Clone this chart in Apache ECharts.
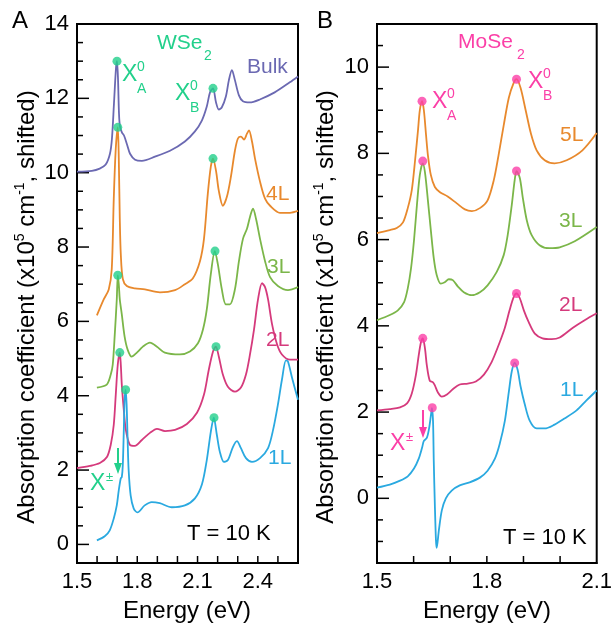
<!DOCTYPE html>
<html>
<head>
<meta charset="utf-8">
<script src="https://cdn.jsdelivr.net/npm/echarts@6/dist/echarts.min.js"></script>
<style>
  html, body { margin: 0; padding: 0; background: #fff; }
  #chart { width: 615px; height: 631px; }
</style>
</head>
<body>
<div id="chart"></div>
<script>
// ---- WSe2 (panel A), [energy eV, absorption x1e5 cm^-1 shifted]
const wse2Bulk = [[1.500,10.03],[1.574,10.05],[1.613,10.11],[1.643,10.22],[1.664,10.51],[1.674,10.92],[1.684,11.86],[1.694,12.81],[1.699,13.00],[1.704,12.54],[1.709,11.59],[1.714,11.24],[1.724,11.08],[1.734,11.00],[1.749,10.76],[1.764,10.51],[1.789,10.35],[1.823,10.32],[1.888,10.43],[1.963,10.59],[2.037,10.84],[2.087,11.11],[2.122,11.41],[2.146,11.78],[2.162,12.16],[2.177,12.27],[2.192,11.89],[2.206,11.70],[2.221,11.76],[2.241,12.05],[2.256,12.49],[2.271,12.76],[2.286,12.49],[2.306,12.08],[2.326,11.92],[2.360,11.89],[2.410,11.97],[2.484,12.16],[2.559,12.43],[2.600,12.59]];
const wse2L4 = [[1.599,6.16],[1.633,6.59],[1.658,6.86],[1.673,7.41],[1.683,9.30],[1.693,10.65],[1.703,11.22],[1.708,10.38],[1.713,8.76],[1.718,7.81],[1.728,7.14],[1.748,6.95],[1.788,6.89],[1.838,6.86],[1.913,6.78],[1.988,6.84],[2.037,7.00],[2.077,7.16],[2.112,7.62],[2.132,8.22],[2.151,9.43],[2.166,10.16],[2.177,10.38],[2.192,10.05],[2.206,9.51],[2.226,9.11],[2.246,9.35],[2.266,9.89],[2.286,10.59],[2.301,10.92],[2.316,10.97],[2.331,10.89],[2.346,11.05],[2.356,11.14],[2.371,10.84],[2.386,10.38],[2.411,9.76],[2.436,9.30],[2.461,9.11],[2.510,8.92],[2.560,8.92],[2.600,8.97]];
const wse2L3 = [[1.599,4.22],[1.648,4.30],[1.668,4.57],[1.678,4.84],[1.688,5.65],[1.698,6.59],[1.703,7.24],[1.708,7.00],[1.713,6.59],[1.723,6.19],[1.737,5.59],[1.752,5.24],[1.772,5.05],[1.798,5.16],[1.828,5.32],[1.863,5.43],[1.898,5.32],[1.937,5.16],[2.012,5.11],[2.062,5.19],[2.102,5.41],[2.127,5.78],[2.146,6.32],[2.166,7.27],[2.186,7.89],[2.201,7.54],[2.221,6.86],[2.241,6.46],[2.261,6.46],[2.286,6.86],[2.306,7.62],[2.326,8.22],[2.346,8.49],[2.361,8.81],[2.376,9.03],[2.391,8.76],[2.411,8.22],[2.436,7.62],[2.461,7.19],[2.500,6.95],[2.550,6.84],[2.600,6.92]];
const wse2L2 = [[1.500,2.05],[1.564,2.11],[1.614,2.19],[1.649,2.35],[1.668,2.68],[1.683,3.22],[1.693,4.03],[1.703,4.84],[1.713,5.16],[1.718,4.84],[1.723,4.30],[1.733,3.62],[1.743,3.08],[1.763,2.68],[1.788,2.65],[1.823,2.81],[1.863,3.00],[1.898,3.11],[1.938,3.05],[1.988,3.08],[2.047,3.24],[2.097,3.54],[2.132,4.03],[2.156,4.70],[2.177,5.19],[2.191,5.32],[2.206,5.05],[2.226,4.57],[2.251,4.24],[2.286,4.11],[2.316,4.22],[2.341,4.57],[2.361,5.11],[2.381,5.78],[2.401,6.59],[2.421,7.03],[2.436,6.92],[2.451,6.59],[2.471,5.92],[2.496,5.38],[2.520,5.11],[2.560,4.97],[2.600,4.97]];
const wse2L1 = [[1.599,0.11],[1.638,0.22],[1.663,0.38],[1.683,0.70],[1.698,1.05],[1.708,1.46],[1.718,1.78],[1.723,1.81],[1.728,2.14],[1.733,3.08],[1.737,3.89],[1.742,4.16],[1.747,3.76],[1.752,2.81],[1.757,2.00],[1.767,1.32],[1.782,0.97],[1.801,0.86],[1.837,1.05],[1.872,1.14],[1.912,1.11],[1.972,1.00],[2.037,1.05],[2.087,1.24],[2.122,1.62],[2.146,2.27],[2.166,3.03],[2.181,3.41],[2.196,2.95],[2.211,2.49],[2.231,2.22],[2.251,2.27],[2.276,2.62],[2.296,2.78],[2.316,2.59],[2.341,2.32],[2.371,2.22],[2.411,2.32],[2.451,2.59],[2.476,3.08],[2.500,3.76],[2.520,4.43],[2.540,4.95],[2.550,4.92],[2.570,4.49],[2.600,3.89]];
const wse2Peaks = [[1.699,13.00],[2.177,12.27],[1.703,11.22],[2.177,10.38],[1.703,7.24],[2.187,7.89],[1.713,5.16],[2.192,5.32],[1.742,4.16],[2.182,3.41]];

// ---- MoSe2 (panel B)
const mose2L5 = [[1.500,6.15],[1.535,6.22],[1.554,6.27],[1.571,6.40],[1.584,6.73],[1.595,7.15],[1.604,7.84],[1.612,8.54],[1.617,9.00],[1.623,9.21],[1.628,9.00],[1.634,8.42],[1.639,7.96],[1.647,7.50],[1.658,7.22],[1.672,7.10],[1.693,7.00],[1.718,6.84],[1.740,6.70],[1.759,6.66],[1.781,6.73],[1.802,6.91],[1.819,7.38],[1.832,7.96],[1.846,8.65],[1.860,9.29],[1.873,9.63],[1.881,9.72],[1.892,9.52],[1.906,9.00],[1.920,8.47],[1.936,8.07],[1.958,7.84],[1.985,7.77],[2.018,7.84],[2.061,8.07],[2.100,8.47]];
const mose2L3 = [[1.500,4.13],[1.535,4.25],[1.557,4.36],[1.574,4.55],[1.584,4.87],[1.593,5.34],[1.601,5.98],[1.609,6.80],[1.617,7.50],[1.625,7.77],[1.631,7.56],[1.639,6.91],[1.647,6.22],[1.655,5.57],[1.663,5.18],[1.674,4.98],[1.685,5.01],[1.696,5.08],[1.707,5.06],[1.721,4.91],[1.737,4.78],[1.759,4.71],[1.781,4.78],[1.802,4.94],[1.827,5.25],[1.846,5.64],[1.857,6.11],[1.868,6.80],[1.876,7.38],[1.881,7.59],[1.890,7.43],[1.898,6.98],[1.909,6.45],[1.922,6.11],[1.944,5.87],[1.971,5.80],[1.999,5.82],[2.040,5.96],[2.100,6.29]];
const mose2L2 = [[1.500,2.04],[1.535,2.07],[1.563,2.11],[1.582,2.20],[1.595,2.43],[1.606,2.85],[1.614,3.32],[1.620,3.62],[1.625,3.71],[1.631,3.48],[1.636,3.09],[1.644,2.73],[1.653,2.69],[1.658,2.62],[1.666,2.46],[1.677,2.36],[1.691,2.41],[1.707,2.53],[1.726,2.64],[1.748,2.66],[1.770,2.71],[1.792,2.87],[1.813,3.16],[1.832,3.55],[1.849,3.95],[1.862,4.36],[1.873,4.66],[1.881,4.75],[1.890,4.64],[1.901,4.36],[1.914,4.09],[1.931,3.82],[1.952,3.71],[1.977,3.69],[1.999,3.73],[2.034,3.95],[2.067,4.13],[2.100,4.29]];
const mose2L1 = [[1.500,0.25],[1.535,0.32],[1.563,0.41],[1.584,0.51],[1.601,0.69],[1.614,0.92],[1.623,1.17],[1.628,1.33],[1.636,1.40],[1.642,1.61],[1.647,1.91],[1.650,2.09],[1.653,1.79],[1.655,0.87],[1.658,-0.16],[1.661,-0.97],[1.663,-1.15],[1.669,-0.74],[1.677,-0.28],[1.688,0.00],[1.704,0.18],[1.726,0.30],[1.753,0.37],[1.781,0.48],[1.802,0.64],[1.822,0.92],[1.835,1.26],[1.849,1.79],[1.860,2.47],[1.868,2.94],[1.876,3.14],[1.884,2.98],[1.892,2.60],[1.903,2.20],[1.917,1.80],[1.936,1.62],[1.958,1.62],[1.985,1.71],[2.012,1.85],[2.045,2.04],[2.072,2.27],[2.100,2.50]];
const mose2Peaks = [[1.623,9.21],[1.881,9.72],[1.625,7.82],[1.881,7.59],[1.625,3.71],[1.881,4.75],[1.651,2.10],[1.876,3.14]];

// ---- tick values
const xTicksA = [1.6, 1.7, 1.8, 1.9, 2.0, 2.1, 2.2, 2.3, 2.4, 2.5];
const xTicksB = [1.6, 1.7, 1.8, 1.9, 2.0];
const yMinorA = [0.5, 1.5, 2.5, 3.5, 4.5, 5.5, 6.5, 7.5, 8.5, 9.5, 10.5, 11.5, 12.5, 13.5, 1, 3, 5, 7, 9, 11, 13];
const yMajorA = [0, 2, 4, 6, 8, 10, 12];
const yMinorB = [-1, -0.5, 0.5, 1.5, 2.5, 3.5, 4.5, 5.5, 6.5, 7.5, 8.5, 9.5, 10.5, 1, 3, 5, 7, 9];
const yMajorB = [0, 2, 4, 6, 8, 10];

const FONT = '"Liberation Sans", Arial, sans-serif';
const GREEN = '#22d08b';
const PINK = '#fb3fa7';
const C_BULK = '#6b69b2', C_4L = '#e8892d', C_3L = '#7bb649', C_2L = '#d53a7c', C_1L = '#2aa9e0';
const BLACK = { color: '#000', width: 2 };

function line(data, color, axis) {
  return {
    type: 'line', data, xAxisIndex: axis, yAxisIndex: axis,
    symbol: 'none', smooth: 0.3, clip: true,
    lineStyle: { color, width: 1.8 }
  };
}

function fmtX(v) {
  const k = (v - 1.5) / 0.3;
  return Math.abs(k - Math.round(k)) < 1e-6 ? v.toFixed(1) : '';
}
function fmtY(v) { return Math.abs(v % 2) < 1e-9 ? String(v) : ''; }

function xAxis(grid, max) {
  return {
    type: 'value', gridIndex: grid, min: 1.5, max, interval: 0.1,
    axisLine: { show: true, onZero: false, lineStyle: BLACK },
    axisTick: { show: false },
    splitLine: { show: false },
    axisLabel: { color: '#000', fontSize: 22, fontFamily: FONT, formatter: fmtX }
  };
}
function yAxis(grid, min, max) {
  return {
    type: 'value', gridIndex: grid, min, max, interval: 0.5, position: 'left',
    axisLine: { show: true, onZero: false, lineStyle: BLACK },
    axisTick: { show: false },
    splitLine: { show: false },
    axisLabel: { color: '#000', fontSize: 22, fontFamily: FONT, formatter: fmtY }
  };
}

// inward ticks, placed through the axes' own scales: [x, y, direction(0 = up, 1 = right), length px]
function tickSeries(axis, xMin, yMin, xs, minors, majors) {
  const data = [
    ...xs.map(v => [v, yMin, 0, 7]),
    ...minors.map(v => [xMin, v, 1, 6]),
    ...majors.map(v => [xMin, v, 1, 12])
  ];
  return {
    type: 'custom', xAxisIndex: axis, yAxisIndex: axis, data, z: 3, silent: true,
    renderItem: (params, api) => {
      const p = api.coord([api.value(0), api.value(1)]);
      const len = api.value(3);
      const up = api.value(2) === 0;
      return {
        type: 'line',
        shape: { x1: p[0], y1: p[1], x2: up ? p[0] : p[0] + len, y2: up ? p[1] - len : p[1] },
        style: { stroke: '#000', lineWidth: 1.5 }
      };
    }
  };
}

function txt(x, y, s, size, color) {
  return {
    type: 'text', x, y, z: 20,
    style: { text: s, font: size + 'px ' + FONT, fill: color, verticalAlign: 'middle' }
  };
}

function yTitle(x, y) {
  return {
    type: 'text', x, y, rotation: Math.PI / 2, z: 20,
    style: {
      text: '{a|Absorption coefficient (x10}{s|5}{a| cm}{s|-1}{a|, shifted)}',
      align: 'center', verticalAlign: 'middle', fill: '#000',
      rich: {
        a: { fontSize: 24, fontFamily: FONT, fill: '#000' },
        s: { fontSize: 14, fontFamily: FONT, fill: '#000', verticalAlign: 'bottom', padding: [0, 0, 13, 0] }
      }
    }
  };
}

function xTitle(x) {
  return {
    type: 'text', x, y: 611, z: 20,
    style: { text: 'Energy (eV)', font: '24px ' + FONT, fill: '#000', align: 'center', verticalAlign: 'middle' }
  };
}

function exciton(x, y, sub, color) {
  return [txt(x, y, 'X', 23, color), txt(x + 15, y - 8, '0', 14, color), txt(x + 15, y + 14, sub, 14, color)];
}

function arrow(x, y1, y2, color) {
  return [
    { type: 'line', z: 20, shape: { x1: x, y1, x2: x, y2: y2 - 8 }, style: { stroke: color, lineWidth: 2 } },
    { type: 'polygon', z: 20, shape: { points: [[x - 4, y2 - 11], [x + 4, y2 - 11], [x, y2]] }, style: { fill: color } }
  ];
}

const chart = echarts.init(document.getElementById('chart'));
const option = {
  animation: false,
  backgroundColor: '#fff',
  grid: [
    { left: 77, top: 24, width: 221, height: 539, show: true, borderColor: '#000', borderWidth: 2 },
    { left: 377, top: 24, width: 220, height: 539, show: true, borderColor: '#000', borderWidth: 2 }
  ],
  xAxis: [xAxis(0, 2.6), xAxis(1, 2.1)],
  yAxis: [yAxis(0, -0.5, 14), yAxis(1, -1.5, 11)],
  series: [
    tickSeries(0, 1.5, -0.5, xTicksA, yMinorA, yMajorA),
    tickSeries(1, 1.5, -1.5, xTicksB, yMinorB, yMajorB),
    line(wse2Bulk, C_BULK, 0),
    line(wse2L4, C_4L, 0),
    line(wse2L3, C_3L, 0),
    line(wse2L2, C_2L, 0),
    line(wse2L1, C_1L, 0),
    { type: 'scatter', data: wse2Peaks, xAxisIndex: 0, yAxisIndex: 0, symbolSize: 9, itemStyle: { color: GREEN }, z: 5 },
    line(mose2L5, C_4L, 1),
    line(mose2L3, C_3L, 1),
    line(mose2L2, C_2L, 1),
    line(mose2L1, C_1L, 1),
    { type: 'scatter', data: mose2Peaks, xAxisIndex: 1, yAxisIndex: 1, symbolSize: 9, itemStyle: { color: PINK }, z: 5 }
  ],
  graphic: [
    yTitle(27, 307), yTitle(326, 307), xTitle(187), xTitle(487),
    txt(12, 21, 'A', 24, '#000'),
    txt(157, 43, 'WSe', 21, GREEN), txt(204, 56, '2', 14, GREEN),
    txt(247, 67, 'Bulk', 21, C_BULK),
    ...exciton(122, 75, 'A', GREEN),
    ...exciton(175, 94, 'B', GREEN),
    txt(266, 194, '4L', 21, C_4L),
    txt(267, 267, '3L', 21, C_3L),
    txt(266, 340, '2L', 21, C_2L),
    txt(268, 458, '1L', 21, C_1L),
    txt(90, 484, 'X', 23, GREEN), txt(106, 477, '±', 13, GREEN),
    ...arrow(118, 448, 474, GREEN),
    txt(187, 534, 'T = 10 K', 22, '#000'),

    txt(317, 21, 'B', 24, '#000'),
    txt(458, 42, 'MoSe', 21, PINK), txt(517, 55, '2', 14, PINK),
    ...exciton(432, 102, 'A', PINK),
    ...exciton(528, 82, 'B', PINK),
    txt(560, 135, '5L', 21, C_4L),
    txt(559, 221, '3L', 21, C_3L),
    txt(559, 305, '2L', 21, C_2L),
    txt(560, 390, '1L', 21, C_1L),
    txt(390, 444, 'X', 23, PINK), txt(406, 437, '±', 13, PINK),
    ...arrow(423, 410, 438, PINK),
    txt(503, 538, 'T = 10 K', 22, '#000')
  ]
};
chart.setOption(option);
</script>
</body>
</html>
